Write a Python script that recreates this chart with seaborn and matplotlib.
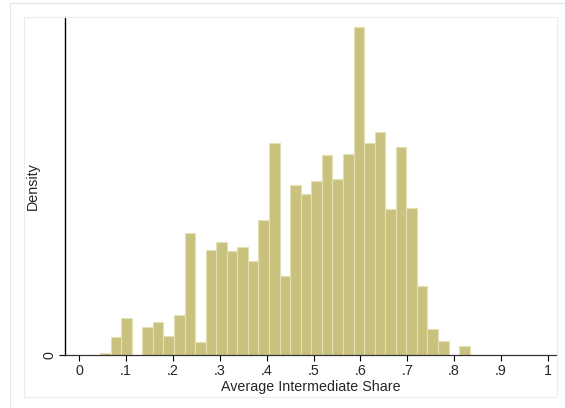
import numpy as np
import pandas as pd
import matplotlib
matplotlib.use('Agg')
import matplotlib.pyplot as plt
from matplotlib.lines import Line2D
import seaborn as sns

# histogram: 35 equal bins
bin_start = 0.0442
bin_width = 0.02255
density = [0.024, 0.223, 0.444, 0.0, 0.338, 0.393, 0.231, 0.476, 1.448, 0.156,
           1.247, 1.341, 1.235, 1.286, 1.123, 1.606, 2.515, 0.942, 2.024, 1.917,
           2.071, 2.376, 2.095, 2.384, 3.896, 2.522, 2.652, 1.736, 2.471, 1.751,
           0.824, 0.310, 0.172, 0.0, 0.109]
xticks = [0, .1, .2, .3, .4, .5, .6, .7, .8, .9, 1]
xtick_labels = ['0', '.1', '.2', '.3', '.4', '.5', '.6', '.7', '.8', '.9', '1']

nb = len(density)
bin_end = bin_start + nb*bin_width
df = pd.DataFrame({'share': bin_start + bin_width*(np.arange(nb)+0.5),
                   'density': density})

sns.set_style('white')
plt.rcParams['font.family'] = ['Liberation Sans', 'DejaVu Sans']

fig = plt.figure(figsize=(5.65, 4.08), dpi=100)
ax = fig.add_axes([0.1156, 0.1287, 0.8703, 0.8297])

sns.histplot(data=df, x='share', weights='density', binwidth=bin_width,
             binrange=(bin_start, bin_end), stat='count',
             color='#c9c27f', edgecolor='#e4e0b4', linewidth=0.8, alpha=1, ax=ax)

ax.set_xlim(-0.0299, 1.0199)
ax.set_ylim(0, 4.01)
ax.set_xticks(xticks)
ax.set_xticklabels(xtick_labels, fontsize=10.3)
ax.set_yticks([0])
ax.set_yticklabels(['0'], fontsize=10.3, rotation=90, va='center')
ax.tick_params(axis='both', direction='out', length=4, width=0.8, color='black', pad=2)
ax.tick_params(axis='x', bottom=True)
ax.tick_params(axis='y', left=True)

ax.set_xlabel('Average Intermediate Share', fontsize=10.3, labelpad=1.5)
ax.set_ylabel('Density', fontsize=10.3)
ax.yaxis.set_label_coords(-0.052, 0.5)

for s in ['top', 'right']:
    ax.spines[s].set_visible(False)
ax.spines['left'].set_color('black')
ax.spines['left'].set_linewidth(1.0)
ax.spines['bottom'].set_color('#333333')
ax.spines['bottom'].set_linewidth(0.9)

# stata graph region frames
frame = '#e8eeee'
fig.add_artist(Line2D([0.0425, 0.9864, 0.9864, 0.0425, 0.0425],
                      [0.9583, 0.9583, 0.0277, 0.0277, 0.9583],
                      transform=fig.transFigure, color=frame, lw=0.8))
fig.add_artist(Line2D([0.0177, 0.0177, 1.0], [0.0, 0.992, 0.992],
                      transform=fig.transFigure, color='#e4e4e4', lw=0.8))

fig.savefig('out.png', dpi=100)
